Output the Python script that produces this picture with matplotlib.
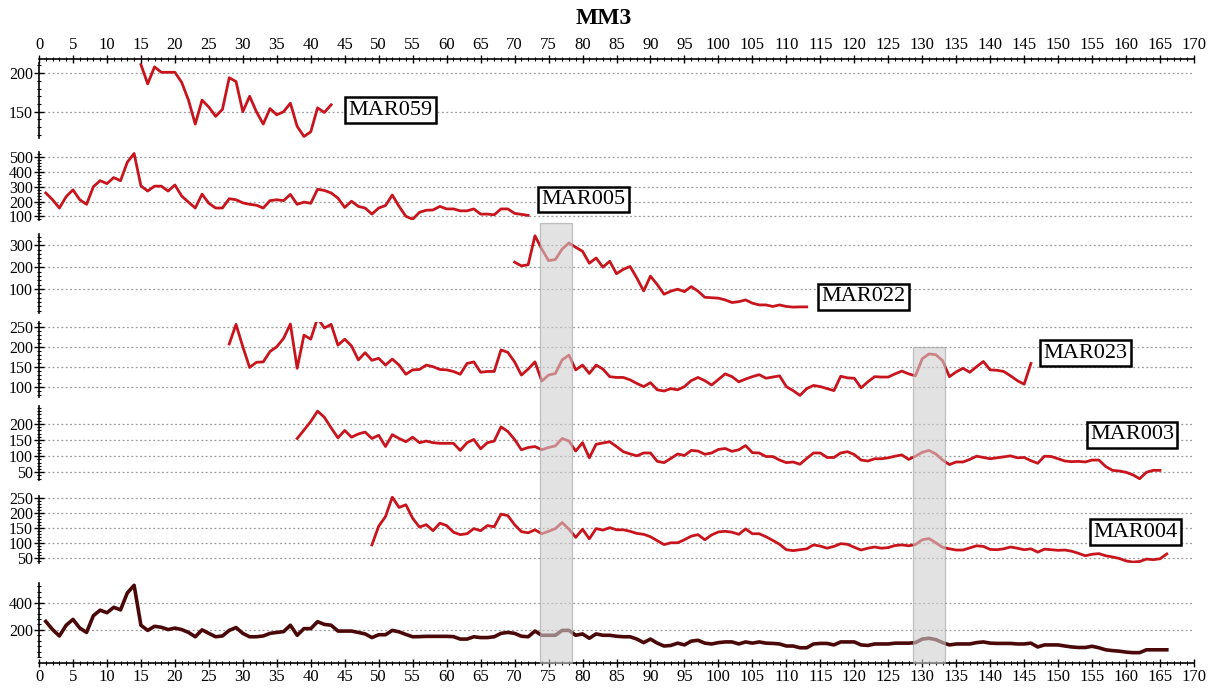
import matplotlib
matplotlib.use('Agg')
import matplotlib.pyplot as plt
from matplotlib.ticker import MultipleLocator, AutoMinorLocator, FixedLocator
from matplotlib.patches import Rectangle
import matplotlib.transforms as mtrans

# ---------------- data ----------------
title = "MM3"
x_ticks = list(range(0, 171, 5))

mar059_start = 15
mar059 = [211, 186, 208, 201, 201, 201, 188, 165, 134, 165, 156, 144, 153, 194, 189,
          150, 170, 150, 134, 154, 146, 150, 161, 131, 118, 124, 155, 149, 159]

mar005_start = 1
mar005 = [258, 212, 156, 233, 279, 212, 181, 300, 341, 321, 362, 341, 466, 525, 306,
          271, 304, 304, 271, 312, 237, 196, 156, 250, 188, 156, 156, 219, 212, 191,
          181, 175, 156, 206, 212, 206, 248, 181, 196, 188, 283, 275, 258, 223, 160,
          202, 167, 156, 115, 156, 173, 244, 167, 100, 80, 127, 141, 143, 167, 150,
          150, 137, 137, 150, 115, 115, 110, 150, 150, 120, 113, 106]

mar022_start = 70
mar022 = [223, 206, 211, 344, 283, 230, 235, 283, 311, 291, 273, 218, 242, 200, 227,
          170, 190, 203, 150, 91, 159, 120, 76, 90, 99, 88, 111, 90, 62, 60,
          58, 50, 38, 42, 50, 35, 27, 27, 20, 27, 20, 17, 18, 18]

mar023_start = 28
mar023 = [207, 256, 200, 148, 161, 162, 188, 200, 221, 257, 146, 229, 219, 272, 247,
          256, 204, 219, 202, 167, 185, 166, 171, 154, 169, 154, 131, 142, 143, 154,
          150, 143, 142, 138, 131, 158, 162, 136, 138, 138, 192, 186, 162, 129, 144,
          162, 114, 129, 133, 167, 179, 142, 154, 133, 154, 144, 125, 123,
          123, 117, 108, 100, 110, 92, 89, 95, 92, 100, 115, 123, 115, 104, 118,
          132, 125, 112, 119, 125, 130, 121, 124, 127, 100, 90, 78, 95, 103, 100,
          95, 90, 126, 122, 121, 97, 112, 125, 124, 124, 132, 139, 132, 127, 170,
          182, 180, 165, 125, 137, 146, 136, 150, 163, 142, 141, 138, 127, 115, 106, 158]

mar003_start = 38
mar003 = [155, 181, 208, 240, 221, 188, 157, 180, 159, 169, 175, 155, 165, 130, 167,
          155, 145, 159, 142, 147, 142, 140, 140, 140, 118, 142, 152, 123, 142, 147,
          191, 177, 152, 120, 127, 130, 120, 127, 132, 155, 147, 116, 142, 95, 137,
          141, 145, 130,
          114, 107, 101, 110, 110, 84, 80, 93, 107, 102, 118, 116, 106, 110, 121,
          124, 115, 120, 133, 111, 110, 99, 99, 88, 80, 82, 75, 93, 110, 110,
          96, 96, 110, 114, 105, 88, 85, 92, 92, 95, 100, 104, 90, 100, 112,
          118, 107, 88, 74, 82, 82, 90, 100, 96, 92, 95, 98, 101, 95, 96,
          86, 78, 100, 99, 92, 85, 83, 84, 82, 88, 88, 68, 56, 54, 50,
          42, 30, 50, 56, 56]

mar004_start = 49
mar004 = [93, 155, 187, 251, 217, 226, 181, 152, 160, 140, 165, 157, 135, 127, 130,
          147, 140, 157, 153, 195, 190, 160, 137, 133, 143, 130, 138, 147, 167, 145,
          118, 145, 113, 147, 142, 150, 143,
          143, 138, 131, 128, 120, 107, 94, 100, 100, 110, 122, 127, 110, 126, 136,
          138, 135, 128, 146, 130, 130, 120, 108, 95, 77, 74, 77, 80, 93, 89,
          82, 88, 97, 95, 85, 76, 82, 86, 82, 84, 91, 93, 90, 94, 110,
          114, 100, 85, 80, 76, 76, 83, 90, 88, 78, 77, 80, 86, 82, 77,
          80, 69, 79, 77, 75, 76, 72, 65, 57, 62, 64, 57, 53, 48, 40,
          36, 38, 46, 44, 47, 63]

combined_start = 1
combined = [262, 202, 155, 234, 277, 213, 181, 304, 345, 326, 366, 347, 472, 528, 234,
            196, 226, 219, 202, 213, 202, 181, 149, 200, 174, 149, 155, 196, 217, 174,
            149, 149, 155, 174, 181, 187, 234, 160, 209, 209, 260, 240, 234, 191, 191,
            191, 181, 170, 143, 164, 164, 196, 185, 166, 149, 150, 152, 152, 152, 152,
            150, 132, 132, 149, 143, 143, 149, 174, 181, 174, 153, 149, 191, 160, 160,
            160, 196, 196, 160, 170, 138, 170, 160, 160, 153,
            149, 149, 132, 106, 132, 102, 81, 85, 102, 89, 117, 123, 102, 96, 106,
            111, 111, 96, 111, 102, 111, 102, 100, 96, 81, 81, 68, 68, 96, 100,
            100, 89, 111, 111, 111, 89, 85, 96, 96, 96, 102, 102, 102, 106, 132,
            138, 128, 106, 89, 96, 96, 96, 106, 111, 102, 100, 100, 100, 96, 96,
            102, 74, 89, 89, 89, 81, 74, 70, 70, 79, 68, 53, 47, 43, 36,
            32, 32, 53, 53, 53, 53]

labels = ["MAR059", "MAR005", "MAR022", "MAR023", "MAR003", "MAR004", None]
yticks = [[150, 200], [100, 200, 300, 400, 500], [100, 200, 300],
          [100, 150, 200, 250], [50, 100, 150, 200], [50, 100, 150, 200, 250], [200, 400]]
shade_spans = [(73.8, 78.5), (128.7, 133.4)]

# ---------------- layout ----------------
W, H = 1208, 689
fig = plt.figure(figsize=(W / 100, H / 100), dpi=100)
plt.rcParams['font.family'] = ['Liberation Serif', 'DejaVu Serif']
SERIF = ['Liberation Serif', 'DejaVu Serif']

X0, X1 = 39, 1194


def frect(top, bottom):
    return [X0 / W, 1 - bottom / H, (X1 - X0) / W, (bottom - top) / H]


series = [(mar059_start, mar059), (mar005_start, mar005), (mar022_start, mar022),
          (mar023_start, mar023), (mar003_start, mar003), (mar004_start, mar004),
          (combined_start, combined)]
panel_px = [(63, 138), (152, 220), (234, 313), (322, 397), (406, 480), (496, 563), (583, 657)]
ylims = [(116, 213), (75, 535), (-10, 352), (74, 262), (26, 256), (33, 255), (0, 545)]
label_pos = [(45.5, 152), (73.9, 214), (115.2, 64), (147.8, 184), (154.7, 166), (155.2, 135), None]
RED = '#c8141c'
DARK = '#4a0808'

axes = []
for i, ((start, vals), (t, b)) in enumerate(zip(series, panel_px)):
    ax = fig.add_axes(frect(t, b))
    xs = list(range(start, start + len(vals)))
    col = DARK if i == 6 else RED
    lw = 2.6 if i == 6 else 2.0
    ax.plot(xs, vals, color=col, lw=lw, solid_joinstyle='round', zorder=3)
    ax.set_xlim(0, 170)
    ax.set_ylim(*ylims[i])
    ax.yaxis.set_major_locator(FixedLocator(yticks[i]))
    ax.yaxis.set_minor_locator(AutoMinorLocator(5))
    for yv in yticks[i]:
        ax.axhline(yv, color='#9a9a9a', lw=0.9, ls=(0, (1.5, 2)), zorder=1)
    for s in ['top', 'right', 'bottom']:
        ax.spines[s].set_visible(False)
    ax.spines['left'].set_linewidth(1.2)
    ax.set_xticks([])
    ax.tick_params(axis='y', which='major', direction='inout', length=7, width=1.0,
                   labelsize=11.5, pad=1)
    ax.tick_params(axis='y', which='minor', direction='inout', length=3, width=0.8)
    for lab in ax.get_yticklabels():
        lab.set_fontfamily(SERIF)
    ax.patch.set_alpha(0)
    if labels[i]:
        lx, ly = label_pos[i]
        ax.text(lx, ly, labels[i], ha='left', va='center', fontsize=16,
                family=SERIF, zorder=6, clip_on=False,
                bbox=dict(boxstyle='square,pad=0.15', fc='white', ec='black', lw=1.8))
    axes.append(ax)

# top and bottom x axes
BOT = 663
for ypx, pos in [(59, 'top'), (BOT, 'bottom')]:
    axx = fig.add_axes([X0 / W, 1 - ypx / H, (X1 - X0) / W, 0.0001])
    axx.set_xlim(0, 170)
    axx.set_yticks([])
    axx.patch.set_alpha(0)
    for s in ['top', 'right', 'bottom', 'left']:
        axx.spines[s].set_visible(s == pos)
    axx.spines[pos].set_linewidth(1.2)
    axx.xaxis.set_ticks_position(pos)
    axx.xaxis.set_major_locator(FixedLocator(x_ticks))
    axx.xaxis.set_minor_locator(MultipleLocator(1))
    axx.tick_params(axis='x', which='major', direction='inout', length=6, width=1.0,
                    labelsize=12, pad=1.5)
    axx.tick_params(axis='x', which='minor', direction='inout', length=3, width=0.8)
    for lab in axx.get_xticklabels():
        lab.set_fontfamily(SERIF)

# shaded spans on top of everything
trans = mtrans.blended_transform_factory(axes[-1].transData, fig.transFigure)
shade_tops = [223, 347]
for (x0, x1), tpx in zip(shade_spans, shade_tops):
    r = Rectangle((x0, 1 - BOT / H), x1 - x0, (BOT - tpx) / H, transform=trans,
                  fc='#cfcfcf', ec='#9e9e9e', lw=0.9, alpha=0.6, zorder=10)
    fig.add_artist(r)

fig.text(0.5, 1 - 18 / H, title, ha='center', va='center', fontsize=17,
         fontweight='bold', family=SERIF)

fig.savefig('out.png', dpi=100)
